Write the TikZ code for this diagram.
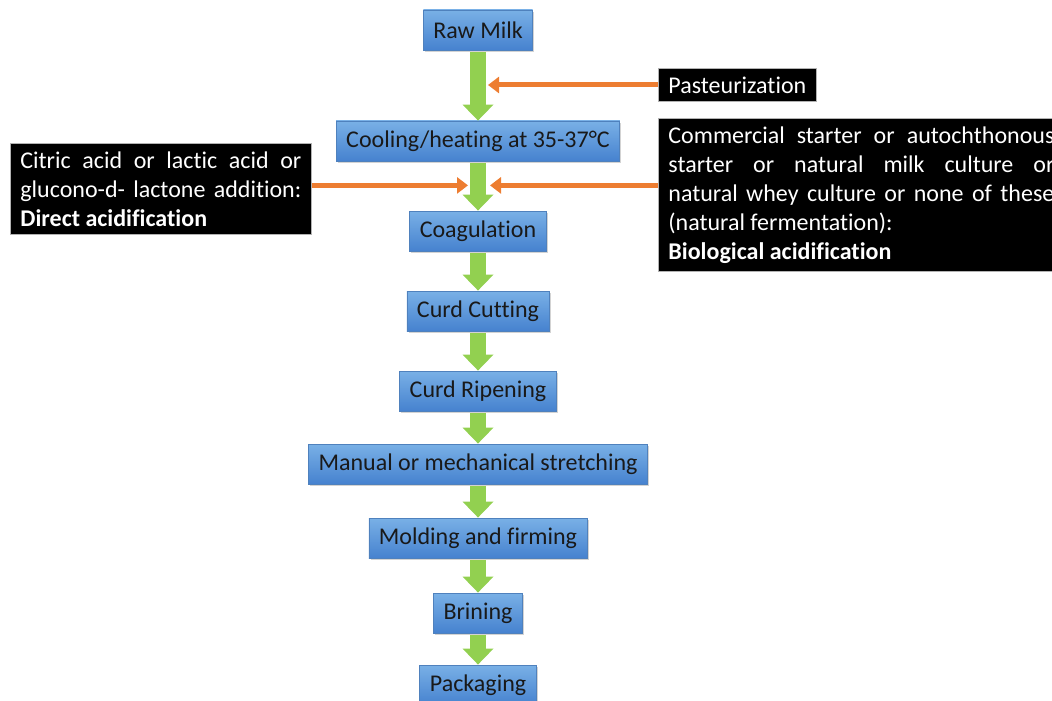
\documentclass[tikz,border=0pt]{standalone}
\usepackage{fontspec}
\setmainfont{Carlito}[Ligatures={NoCommon}]
\usepackage{tikz}
\usetikzlibrary{shapes.geometric, arrows.meta, shadows}
\definecolor{boxtop}{HTML}{79B0E6}
\definecolor{boxbot}{HTML}{4682CF}
\definecolor{boxline}{HTML}{4F81BD}
\definecolor{flowgreen}{HTML}{92D050}
\definecolor{feedorange}{HTML}{ED7D31}
\tikzstyle{stage} = [rectangle, minimum height=20pt, inner xsep=5pt, inner ysep=2pt, text centered, draw=boxline, line width=0.4pt, top color=boxtop, bottom color=boxbot, text=black!90, font=\fontsize{12}{14.5}\selectfont, drop shadow={opacity=0.35, shadow xshift=0.8pt, shadow yshift=-1pt}]
\tikzstyle{note} = [rectangle, inner xsep=5pt, inner ysep=4pt, draw=gray!60, line width=0.4pt, fill=black, text=white, font=\fontsize{12}{14.5}\selectfont, align=justify]
\tikzstyle{flow} = [line width=8pt, draw=flowgreen, -{Triangle[width=15pt,length=8pt]}, shorten <=1pt]
\tikzstyle{feed} = [line width=2.5pt, draw=feedorange, -{Triangle[width=8pt,length=5.5pt]}]

\begin{document}
\begin{tikzpicture}[node distance=40pt, x=1pt, y=1pt]
				\useasboundingbox (0,0) rectangle (526,-350);
				\clip (0,0) rectangle (526,-350);
				\node(raw) [stage] at (239,-15) {Raw Milk};
				%----------------------------------------------------%
				\node(cool) [stage, below of=raw, yshift=-15.5pt] {Cooling/heating at 35-37\textdegree C};
				\node(coag) [stage, below of=cool, yshift=-5pt] {Coagulation};
				\node(cut) [stage, below of=coag] {Curd Cutting};
				\node(ripen) [stage, below of=cut] {Curd Ripening};
				\node(stretch) [stage, below of=ripen, yshift=3.5pt] {Manual or mechanical stretching};
				\node(mold) [stage, below of=stretch, yshift=3pt] {Molding and firming};
				\node(brine) [stage, below of=mold, yshift=2.5pt] {Brining};
				\node(pack) [stage, below of=brine, yshift=4pt] {Packaging};
				
				\draw[flow] (raw) -- (cool);
				\draw[flow] (cool) -- (coag);
				\draw[flow] (coag) -- (cut);
				\draw[flow] (cut) -- (ripen);
				\draw[flow] (ripen) -- (stretch);
				\draw[flow] (stretch) -- (mold);
				\draw[flow] (mold) -- (brine);
				\draw[flow] (brine) -- (pack);
				
				%----------------------------------------------------%
				\node(past) [note, anchor=west, align=left] at (329,-42.5) {Pasteurization};
				\coordinate (pastend) at (raw.center |- past.west);
				\draw[feed] (past.west) -- ([xshift=5pt]pastend);
				
				%----------------------------------------------------%
				\coordinate (acid) at ([yshift=-12pt]cool.south);
				\node(direct) [note, anchor=north west, text width=140.5pt] at (5,-71.5) {Citric acid or lactic acid or\linebreak glucono-d- lactone addition:\linebreak \textbf{Direct acidification}};
				\node(bio) [note, anchor=north west, text width=193pt] at (329,-59) {Commercial starter or autochthonous\linebreak starter or natural milk culture or\linebreak natural whey culture or none of these\linebreak (natural fermentation):\newline \textbf{Biological acidification}};
				
				\draw[feed] (direct.east |- acid) -- ([xshift=-5pt]acid);
				\draw[feed] (bio.west |- acid) -- ([xshift=6pt]acid);
			\end{tikzpicture}
\end{document}
